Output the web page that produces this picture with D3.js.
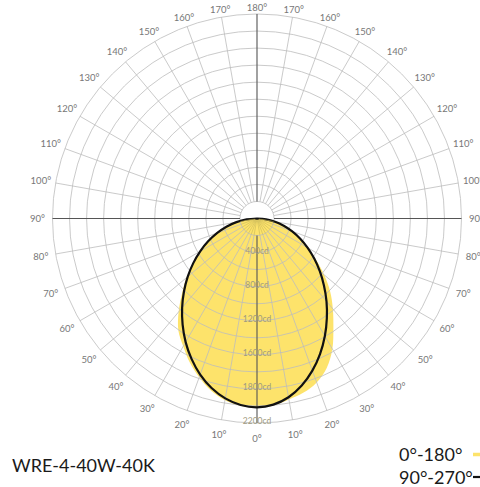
<!DOCTYPE html>
<html><head><meta charset="utf-8">
<script src="https://cdn.jsdelivr.net/npm/d3@7"></script>
<style>html,body{margin:0;padding:0;background:#fff;}svg{display:block;}</style>
</head><body>
<svg id="chart" width="480" height="487"></svg>
<script>
// ---- data ----
const angles = [0,5,10,15,20,25,30,35,40,45,50,55,60,65,70,75,80,85,90];
// C0-C180 plane (yellow fill), left half and right half (cd)
const yellowLeft  = [2218,2206,2165,2089,1983,1866,1731,1608,1432,1244,1080,915,770,633,500,371,245,122,0];
const yellowRight = [2218,2202,2156,2115,2047,1936,1769,1563,1385,1215,1028,845,687,560,440,325,215,107,0];
// C90-C270 plane (black line)
const blackLeft   = [2216,2197,2144,2060,1949,1818,1675,1522,1367,1212,1061,913,770,633,500,371,245,122,0];
const blackRight  = [2216,2193,2130,2029,1900,1752,1593,1429,1269,1111,962,820,687,560,440,325,215,107,0];
const ringValues = [200,400,600,800,1000,1200,1400,1600,1800,2000,2200,2400];
const ringLabelValues = [400,800,1200,1600,2000,2400];
const ringLabels = ["400cd","800cd","1200cd","1600cd","1800cd","2200cd"];
const angleTicks = [0,10,20,30,40,50,60,70,80,90,100,110,120,130,140,150,160,170,180];
const title = "WRE-4-40W-40K";
const legendItems = ["0°-180°","90°-270°"];

// ---- layout ----
const svg = d3.select("#chart");
const cx = 257, cy = 218.5, R = 204.5, rInner = 17;
const r = d3.scaleLinear().domain([0,2400]).range([0,R]);
const deg = d3.scaleLinear().domain([0,180]).range([0,Math.PI]);
const g = svg.append("g").attr("transform",`translate(${cx},${cy})`);

// polar helpers: phi measured from nadir (down), side -1 = left, +1 = right
const px = (phi, rad, side) => side*rad*Math.sin(deg(phi));
const py = (phi, rad) => rad*Math.cos(deg(phi));

function shapePoints(left, right){
  const pts = [];
  angles.slice().reverse().forEach((a,i)=>{ const v = right[angles.length-1-i]; pts.push([px(a,r(v),1), py(a,r(v))]); });
  angles.forEach((a,i)=>{ if(i>0){ const v = left[i]; pts.push([px(a,r(v),-1), py(a,r(v))]); } });
  return pts;
}
const line = d3.line().curve(d3.curveCatmullRomClosed.alpha(0.5));

// yellow fill
const yPts = shapePoints(yellowLeft, yellowRight);
g.append("path").attr("d", line(yPts)).attr("fill","#fde36b").attr("stroke","none");
svg.append("defs").append("clipPath").attr("id","yclip")
  .append("path").attr("d", line(yPts)).attr("transform",`translate(${cx},${cy})`);

// grid rings
g.selectAll("circle.ring").data(ringValues).join("circle")
  .attr("class","ring").attr("r", d=>r(d)).attr("fill","none")
  .attr("stroke","#bdbdbd").attr("stroke-width",0.8);

// spokes every 10 degrees
const spokeAngles = d3.range(0,360,10);
g.selectAll("line.spoke").data(spokeAngles.filter(a=>a%90!==0)).join("line")
  .attr("class","spoke")
  .attr("x1", a=>rInner*Math.sin(a*Math.PI/180)).attr("y1", a=>rInner*Math.cos(a*Math.PI/180))
  .attr("x2", a=>R*Math.sin(a*Math.PI/180)).attr("y2", a=>R*Math.cos(a*Math.PI/180))
  .attr("stroke","#bdbdbd").attr("stroke-width",0.8);
// inner spokes inside the yellow area
const inner = svg.append("g").attr("clip-path","url(#yclip)").append("g").attr("transform",`translate(${cx},${cy})`);
inner.selectAll("line").data(spokeAngles.filter(a=>a%90!==0)).join("line")
  .attr("x1", a=>2*Math.sin(a*Math.PI/180)).attr("y1", a=>2*Math.cos(a*Math.PI/180))
  .attr("x2", a=>rInner*Math.sin(a*Math.PI/180)).attr("y2", a=>rInner*Math.cos(a*Math.PI/180))
  .attr("stroke","#c9b85a").attr("stroke-width",0.6);
// main axes
[0,90,180,270].forEach(a=>{
  g.append("line")
    .attr("x1", rInner*Math.sin(a*Math.PI/180)).attr("y1", rInner*Math.cos(a*Math.PI/180))
    .attr("x2", R*Math.sin(a*Math.PI/180)).attr("y2", R*Math.cos(a*Math.PI/180))
    .attr("stroke","#555").attr("stroke-width",1.1);
});

// ring labels
g.selectAll("text.rl").data(ringLabelValues).join("text")
  .attr("class","rl").attr("x",0).attr("y", d=>r(d)-2)
  .attr("text-anchor","middle").attr("dominant-baseline","central")
  .attr("font-family","Lato, sans-serif").attr("font-size",8.5).attr("fill","#a09a80")
  .text((d,i)=>ringLabels[i]);

// black curve
g.append("path").attr("d", line(shapePoints(blackLeft, blackRight)))
  .attr("fill","none").attr("stroke","#111").attr("stroke-width",2.2);

// angle labels
const labelData = [];
angleTicks.forEach(a=>{
  labelData.push({a, side:-1});
  if(a!==0 && a!==180) labelData.push({a, side:1});
});
labelData.forEach(d=>{ if(d.a===0||d.a===180) d.side=1; });
const labR = a => 219.5 - 8.5*Math.pow(Math.max(0,-Math.cos(deg(a))),6);
g.selectAll("text.al").data(labelData).join("text")
  .attr("class","al")
  .attr("x", d=> (d.a===0||d.a===180) ? 0 : px(d.a, labR(d.a), d.side))
  .attr("y", d=> py(d.a, labR(d.a)))
  .attr("text-anchor","middle").attr("dominant-baseline","central")
  .attr("font-family","Lato, sans-serif").attr("font-size",9.5).attr("fill","#777")
  .text(d=>`${d.a}°`);

// title
svg.append("text").attr("x",12).attr("y",465).attr("dominant-baseline","central")
  .attr("font-family","Lato, sans-serif").attr("font-size",18).attr("fill","#1a1a1a")
  .text(title);

// legend
const legColors = ["#fde36b","#111"];
const legW = [3.5,2.2];
legendItems.forEach((t,i)=>{
  const y = 454 + i*22.5;
  svg.append("text").attr("x",399).attr("y",y).attr("dominant-baseline","central")
    .attr("font-family","Lato, sans-serif").attr("font-size",18).attr("fill","#1a1a1a").text(t);
  svg.append("line").attr("x1",473).attr("x2",500).attr("y1",y+0.5).attr("y2",y+0.5)
    .attr("stroke",legColors[i]).attr("stroke-width",legW[i]);
});
</script>
</body></html>
